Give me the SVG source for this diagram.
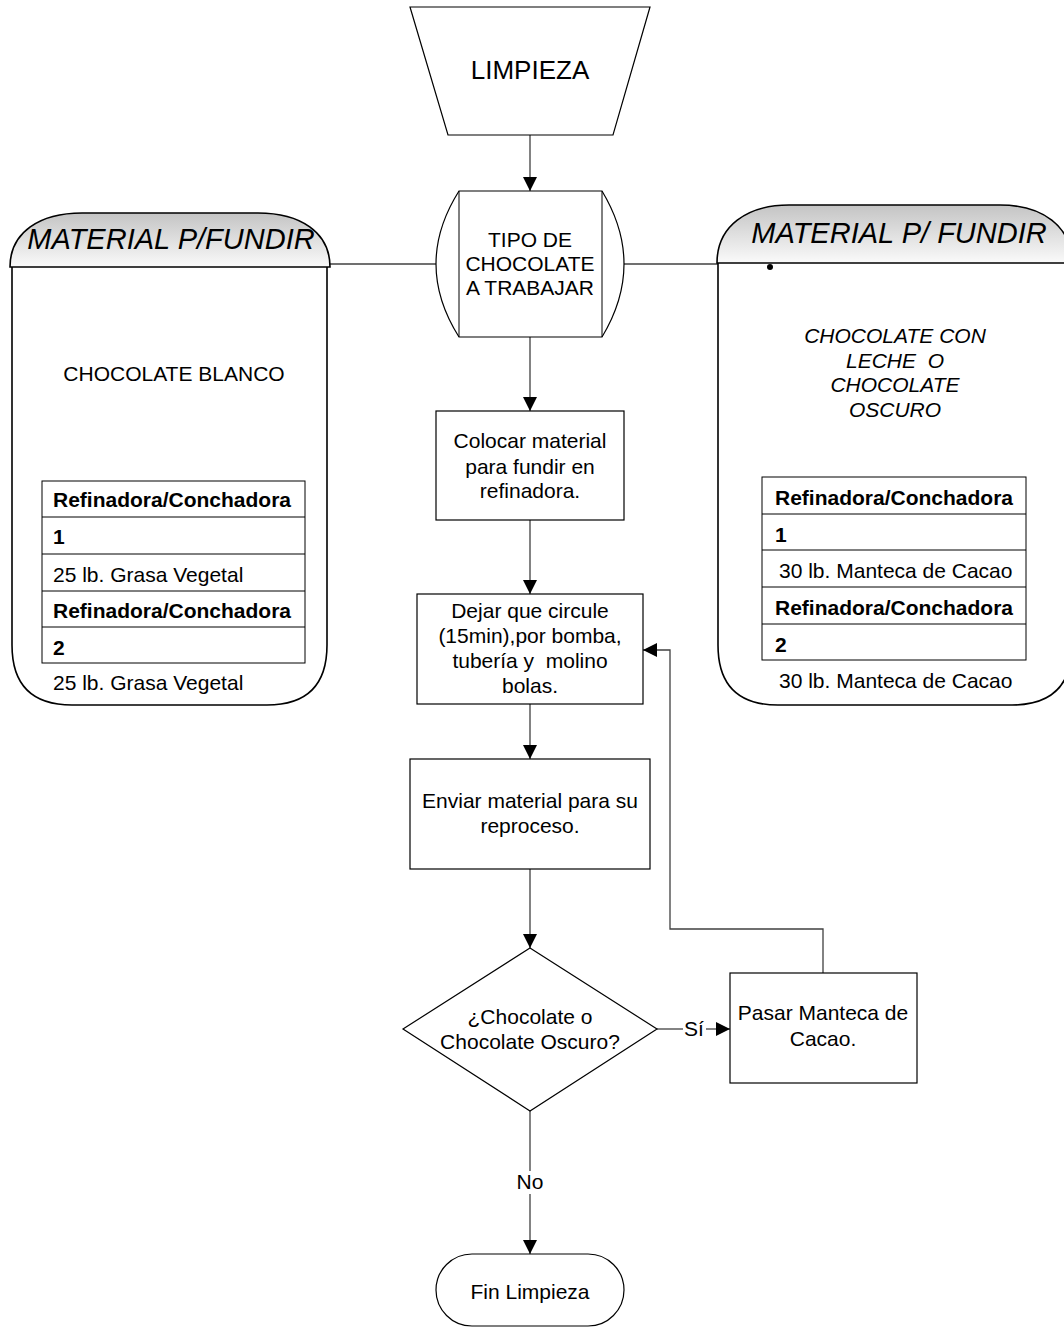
<svg xmlns="http://www.w3.org/2000/svg" width="1064" height="1327" viewBox="0 0 1064 1327">
<style>
text{font-family:"Liberation Sans",Arial,sans-serif;font-size:21px;fill:#000}
.c{text-anchor:middle}
.b{font-weight:bold}
.i{font-style:italic}
.sh{fill:#fff;stroke:#000;stroke-width:1.2}
.pn{fill:#fff;stroke:#000;stroke-width:1.6}
.cn{fill:none;stroke:#404040;stroke-width:1.3}
.tb{fill:none;stroke:#000;stroke-width:1}
</style>
<defs>
<linearGradient id="hg" x1="0" y1="0" x2="0" y2="1">
<stop offset="0" stop-color="#c4c4c4"/>
<stop offset="1" stop-color="#fafafa"/>
</linearGradient>
<marker id="arr" markerUnits="userSpaceOnUse" markerWidth="14" markerHeight="14" refX="14" refY="7" orient="auto">
<path d="M0,0 L14,7 L0,14 z" fill="#000"/>
</marker>
</defs>

<g id="connectors">
<line class="cn" x1="530" y1="135" x2="530" y2="191" marker-end="url(#arr)"/>
<line class="cn" x1="530" y1="337" x2="530" y2="411" marker-end="url(#arr)"/>
<line class="cn" x1="530" y1="520" x2="530" y2="594" marker-end="url(#arr)"/>
<line class="cn" x1="530" y1="704" x2="530" y2="759" marker-end="url(#arr)"/>
<line class="cn" x1="530" y1="869" x2="530" y2="948" marker-end="url(#arr)"/>
<line class="cn" x1="657" y1="1029" x2="683" y2="1029"/>
<line class="cn" x1="706" y1="1029" x2="730" y2="1029" marker-end="url(#arr)"/>
<text x="694" y="1036" class="c">Sí</text>
<polyline class="cn" points="823,973 823,929 670,929 670,650 643,650" marker-end="url(#arr)"/>
<line class="cn" x1="530" y1="1111" x2="530" y2="1171"/>
<line class="cn" x1="530" y1="1194" x2="530" y2="1254" marker-end="url(#arr)"/>
<text x="530" y="1189" class="c">No</text>
<line class="cn" x1="436" y1="264" x2="330" y2="264"/>
<line class="cn" x1="624" y1="264" x2="718" y2="264"/>
</g>

<g id="limpieza">
<polygon class="sh" points="410,7 650,7 613,135 448,135"/>
<text x="530" y="79" class="c" style="font-size:26px">LIMPIEZA</text>
</g>

<g id="tipo">
<path class="sh" d="M459,191 L602,191 Q646,264 602,337 L459,337 Q413,264 459,191 Z"/>
<line class="tb" x1="459" y1="191" x2="459" y2="337"/>
<line class="tb" x1="602" y1="191" x2="602" y2="337"/>
<text x="530" y="247" class="c">TIPO DE</text>
<text x="530" y="271" class="c">CHOCOLATE</text>
<text x="530" y="295" class="c">A TRABAJAR</text>
</g>

<g id="panel-left">
<path class="pn" d="M12,267 L12,645 Q12,705 72,705 L267,705 Q327,705 327,645 L327,267"/>
<path class="pn" d="M10,267 C10,232 40,213 82,213 L258,213 C300,213 330,232 330,267 Z" fill="url(#hg)" style="fill:url(#hg)"/>
<text x="171" y="249" class="c i" style="font-size:29px">MATERIAL P/FUNDIR</text>
<text x="174" y="381" class="c">CHOCOLATE BLANCO</text>
<rect class="tb" x="42" y="481" width="263" height="182"/>
<line class="tb" x1="42" y1="517" x2="305" y2="517"/>
<line class="tb" x1="42" y1="554" x2="305" y2="554"/>
<line class="tb" x1="42" y1="591" x2="305" y2="591"/>
<line class="tb" x1="42" y1="627" x2="305" y2="627"/>
<text x="53" y="507" class="b">Refinadora/Conchadora</text>
<text x="53" y="544" class="b">1</text>
<text x="53" y="582">25 lb. Grasa Vegetal</text>
<text x="53" y="618" class="b">Refinadora/Conchadora</text>
<text x="53" y="655" class="b">2</text>
<text x="53" y="690">25 lb. Grasa Vegetal</text>
</g>

<g id="panel-right">
<path class="pn" d="M718,263 L718,645 Q718,705 778,705 L1012,705 Q1072,705 1072,645 L1072,263"/>
<path class="pn" d="M717,263 C717,226 747,205 789,205 L1000,205 C1042,205 1072,226 1072,263 Z" style="fill:url(#hg)"/>
<circle cx="770" cy="267" r="3" fill="#000"/>
<text x="899" y="243" class="c i" style="font-size:29px">MATERIAL P/ FUNDIR</text>
<text x="895" y="343" class="c i">CHOCOLATE CON</text>
<text x="895" y="368" class="c i" xml:space="preserve">LECHE  O</text>
<text x="895" y="392" class="c i">CHOCOLATE</text>
<text x="895" y="417" class="c i">OSCURO</text>
<rect class="tb" x="762" y="477" width="264" height="183"/>
<line class="tb" x1="762" y1="514" x2="1026" y2="514"/>
<line class="tb" x1="762" y1="550" x2="1026" y2="550"/>
<line class="tb" x1="762" y1="587" x2="1026" y2="587"/>
<line class="tb" x1="762" y1="624" x2="1026" y2="624"/>
<text x="775" y="505" class="b">Refinadora/Conchadora</text>
<text x="775" y="542" class="b">1</text>
<text x="779" y="578">30 lb. Manteca de Cacao</text>
<text x="775" y="615" class="b">Refinadora/Conchadora</text>
<text x="775" y="652" class="b">2</text>
<text x="779" y="688">30 lb. Manteca de Cacao</text>
</g>

<g id="colocar">
<rect class="sh" x="436" y="411" width="188" height="109"/>
<text x="530" y="448" class="c">Colocar material</text>
<text x="530" y="474" class="c">para fundir en</text>
<text x="530" y="498" class="c">refinadora.</text>
</g>

<g id="dejar">
<rect class="sh" x="417" y="594" width="226" height="110"/>
<text x="530" y="618" class="c">Dejar que circule</text>
<text x="530" y="643" class="c">(15min),por bomba,</text>
<text x="530" y="668" class="c" xml:space="preserve">tubería y  molino</text>
<text x="530" y="693" class="c">bolas.</text>
</g>

<g id="enviar">
<rect class="sh" x="410" y="759" width="240" height="110"/>
<text x="530" y="808" class="c">Enviar material para su</text>
<text x="530" y="833" class="c">reproceso.</text>
</g>

<g id="decision">
<polygon class="sh" points="530,948 657,1029 530,1111 403,1029"/>
<text x="530" y="1024" class="c">¿Chocolate o</text>
<text x="530" y="1049" class="c">Chocolate Oscuro?</text>
</g>

<g id="pasar">
<rect class="sh" x="730" y="973" width="187" height="110"/>
<text x="823" y="1020" class="c">Pasar Manteca de</text>
<text x="823" y="1046" class="c">Cacao.</text>
</g>

<g id="fin">
<rect class="sh" x="436" y="1254" width="188" height="72" rx="36" ry="36"/>
<text x="530" y="1299" class="c">Fin Limpieza</text>
</g>
</svg>
